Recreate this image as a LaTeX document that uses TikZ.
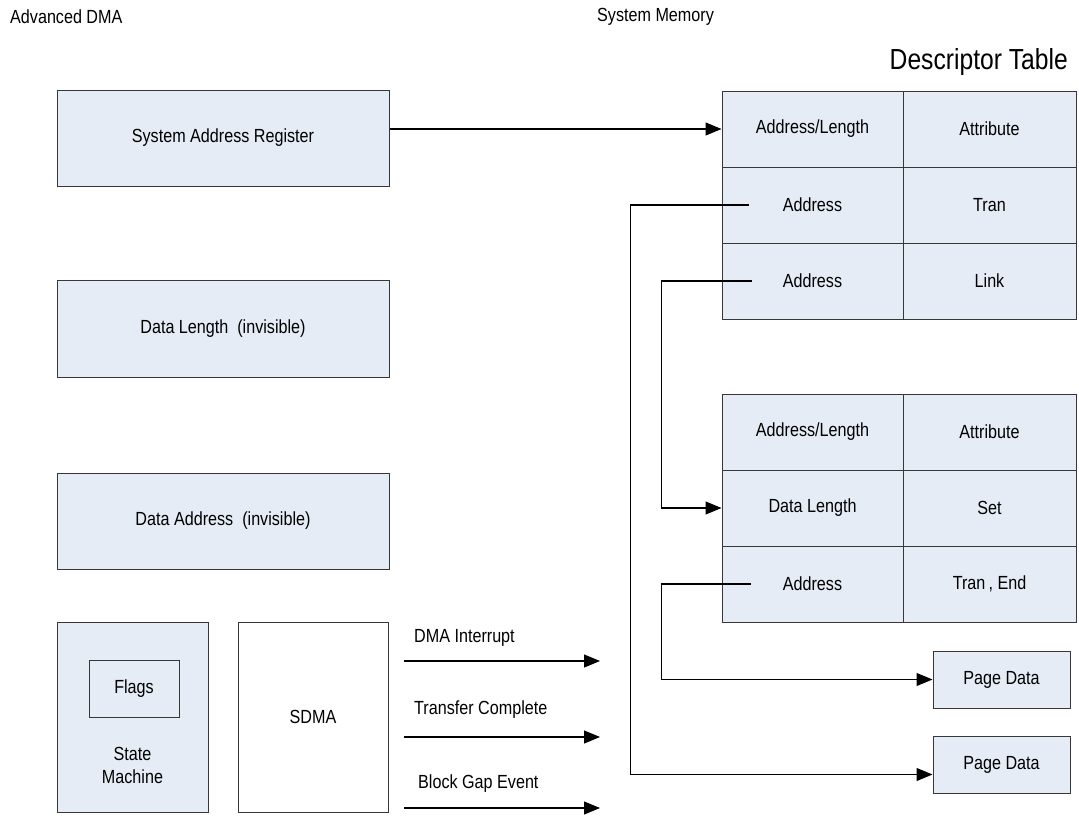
\documentclass[tikz,border=0pt]{standalone}
\usepackage{fontspec}
\setmainfont{Liberation Sans}[FakeStretch=0.85]
\usetikzlibrary{arrows.meta}
\definecolor{regfill}{RGB}{230,236,246}
\definecolor{edgegray}{RGB}{55,55,55}

\begin{document}
\begin{tikzpicture}[x=1pt, y=-1pt, >={Triangle[length=16pt, width=13pt]},
        every node/.style={font=\fontsize{19}{23}\selectfont, inner sep=0pt},
        reg/.style={rectangle, draw=edgegray, fill=regfill, line width=1pt},
        cell/.style={reg, minimum height=76pt},
        link/.style={line width=1.1pt}]
        \useasboundingbox (0,0) rectangle (1079,816);

        % --- ADVANCED DMA ---
        \node (adma) at (10,17) [anchor=west] {Advanced DMA};
        \node (sar) at (223,138) [reg, minimum width=332pt, minimum height=96pt] {System Address Register};
        \node (dlen) at (223,328.5) [reg, minimum width=332pt, minimum height=97pt] {Data Length\ \ (invisible)};
        \node (dadr) at (223,521) [reg, minimum width=332pt, minimum height=96pt] {Data Address\ \ (invisible)};

        \node (sm) at (132.5,717) [reg, minimum width=151pt, minimum height=190pt] {};
        \node (flags) at (134,688.5) [reg, minimum width=90pt, minimum height=57pt] {Flags};
        \node (smtext) at (132.5,765) [align=center] {State\\Machine};
        \node (sdma) at (313,717) [reg, fill=white, minimum width=150pt, minimum height=190pt] {SDMA};

        % --- SIGNALS ---
        \coordinate (irqA) at (404,661);
        \coordinate (irqB) at (600,661);
        \coordinate (tcA) at (404,737);
        \coordinate (tcB) at (600,737);
        \coordinate (bgA) at (404,808);
        \coordinate (bgB) at (600,808);
        \node (irq) at (414,638) [anchor=west] {DMA Interrupt};
        \node (tc) at (414,710) [anchor=west] {Transfer Complete};
        \node (bg) at (418,784) [anchor=west] {Block Gap Event};
        \draw[->, link] (irqA) -- (irqB);
        \draw[->, link] (tcA) -- (tcB);
        \draw[->, link] (bgA) -- (bgB);

        % --- SYSTEM MEMORY ---
        \node (smem) at (597,17) [anchor=west] {System Memory};
        \node (dtab) at (1068,62) [anchor=east, font=\fontsize{29}{32}\selectfont] {Descriptor Table};

        \node (ta1) at (812.5,129) [cell, minimum width=181pt] {Address/Length};
        \node (tb1) at (989.5,129) [cell, minimum width=173pt] {Attribute};
        \node (ta2) at (812.5,205) [cell, minimum width=181pt] {Address};
        \node (tb2) at (989.5,205) [cell, minimum width=173pt] {Tran};
        \node (ta3) at (812.5,281) [cell, minimum width=181pt] {Address};
        \node (tb3) at (989.5,281) [cell, minimum width=173pt] {Link};

        \node (tc1) at (812.5,432) [cell, minimum width=181pt] {Address/Length};
        \node (td1) at (989.5,432) [cell, minimum width=173pt] {Attribute};
        \node (tc2) at (812.5,508) [cell, minimum width=181pt] {Data Length};
        \node (td2) at (989.5,508) [cell, minimum width=173pt] {Set};
        \node (tc3) at (812.5,584) [cell, minimum width=181pt] {Address};
        \node (td3) at (989.5,584) [cell, minimum width=173pt] {Tran\,, End};

        \node (page1) at (1001.5,679.5) [reg, minimum width=137pt, minimum height=57pt] {Page Data};
        \node (page2) at (1001.5,764.5) [reg, minimum width=137pt, minimum height=57pt] {Page Data};

        \draw[->, link] (sar.east |- ta1.west) -- (ta1.west);
        \draw[->, link] ([xshift=27pt]ta2.west) -- ++(-118,0) |- ([yshift=-10pt]page2.west); % transfer entry
        \draw[->, link] ([xshift=30pt]ta3.west) -- ++(-90,0) |- (tc2.west); % link entry
        \draw[->, link] ([xshift=29pt]tc3.west) -- ++(-89,0) |- (page1.west);
    \end{tikzpicture}
\end{document}
